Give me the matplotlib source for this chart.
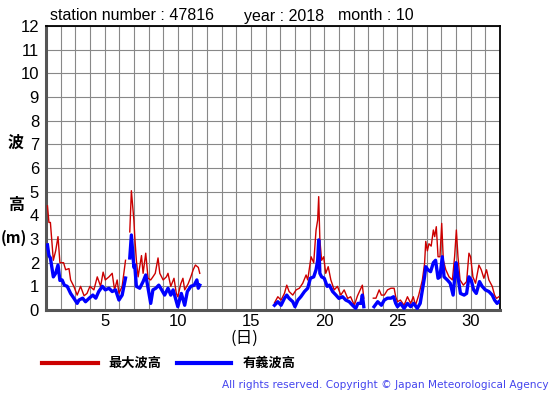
import numpy as np
import matplotlib
matplotlib.use("Agg")
import matplotlib.pyplot as plt

nan = np.nan

# 最大波高 (max wave height), day of month vs metres
max_days = [1.1, 1.2, 1.3, 1.5, 1.66, 1.82, 1.95, 2.2, 2.34, 2.57, 2.68, 2.9, 3.13, 3.36, 3.6, 3.8,
            4.0, 4.27, 4.5, 4.73, 4.9, 5.05, 5.3, 5.52, 5.68, 5.86, 5.98, 6.2, 6.43, 6.55,
            6.72, 6.83, 7.0, 7.06, 7.17, 7.29, 7.52, 7.63, 7.81, 7.97, 8.15, 8.3, 8.46, 8.65,
            8.77, 9.0, 9.22, 9.33, 9.52, 9.74, 9.9, 10.0, 10.2, 10.35, 10.47, 10.7, 10.89,
            11.05, 11.2, 11.4, 11.5, 11.6,
            16.6, 16.83, 17.05, 17.28, 17.44, 17.6, 17.85, 18.08, 18.3, 18.53, 18.76, 18.87,
            19.1, 19.28, 19.44, 19.55, 19.62, 19.7, 19.82, 19.96, 20.1, 20.27, 20.45, 20.68,
            20.9, 21.13, 21.36, 21.6, 21.8, 22.05, 22.27, 22.6, 22.7, 22.82, 22.95,
            23.07, 23.2, 23.35, 23.53, 23.75, 23.9, 24.1, 24.32, 24.55, 24.77, 24.88, 25.0,
            25.2, 25.45, 25.68, 25.9, 26.08, 26.23, 26.45, 26.7, 26.85, 26.93, 27.04, 27.15,
            27.3, 27.45, 27.54, 27.65, 27.77, 27.9, 28.02, 28.13, 28.3, 28.52, 28.75, 28.9,
            29.02, 29.13, 29.27, 29.5, 29.72, 29.88, 29.99, 30.15, 30.33, 30.56, 30.72, 30.9,
            31.08, 31.24, 31.47, 31.63, 31.76, 31.92]
max_wave = [4.4, 3.7, 3.7, 2.1, 2.5, 3.1, 2.0, 2.0, 1.7, 1.75, 1.27, 1.0, 0.63, 1.0, 0.6, 0.7,
            1.0, 0.85, 1.4, 1.0, 1.6, 1.27, 1.4, 1.55, 0.85, 1.27, 0.7, 1.0, 2.1, nan,
            3.3, 5.04, 3.8, 3.1, 2.1, 1.4, 2.3, 1.55, 2.4, 1.34, 1.27, 1.4, 1.55, 2.2,
            1.55, 1.27, 1.4, 1.55, 1.0, 1.34, 0.7, 0.56, 1.1, 1.34, 0.85, 1.1, 1.4,
            1.7, 1.9, 1.8, 1.55, nan,
            0.3, 0.56, 0.42, 0.7, 1.05, 0.78, 0.63, 0.85, 0.92, 1.13, 1.48, 1.27,
            2.25, 2.0, 3.38, 3.8, 4.79, 2.96, 2.1, 2.25, 1.55, 1.83, 1.27, 0.85,
            1.0, 0.63, 0.85, 0.49, 0.56, 0.2, 0.6, 1.05, 0.5, nan, nan,
            0.85, nan, 0.5, 0.5, 0.85, 0.63, 0.63, 0.85, 0.92, 0.92, 0.56, 0.35,
            0.42, 0.2, 0.56, 0.28, 0.56, 0.2, 0.63, 1.27, 1.97, 2.9, 2.5, 2.8,
            2.7, 3.38, 3.1, 3.52, 2.25, 2.25, 3.66, 2.1, 1.7, 1.4, 1.27, 2.25,
            3.38, 2.25, 1.27, 1.05, 1.2, 2.4, 2.25, 1.4, 1.13, 1.9, 1.7, 1.34,
            1.7, 1.27, 1.0, 0.63, 0.49, 0.56]

# 有義波高 (significant wave height)
sig_days = [1.1, 1.2, 1.3, 1.5, 1.66, 1.82, 1.95, 2.1, 2.25, 2.45, 2.68, 2.9, 3.13, 3.25, 3.5,
            3.7, 3.95, 4.2, 4.4, 4.6, 4.85, 5.05, 5.3, 5.52, 5.75, 5.98, 6.2, 6.43, 6.55,
            6.72, 6.83, 7.0, 7.06, 7.17, 7.4, 7.63, 7.81, 7.97, 8.15, 8.3, 8.5, 8.7, 8.9,
            9.1, 9.33, 9.52, 9.68, 9.9, 10.0, 10.24, 10.47, 10.65, 10.89, 11.12, 11.3, 11.4,
            11.5, 11.6,
            16.6, 16.83, 17.05, 17.28, 17.44, 17.6, 17.85, 18.0, 18.2, 18.4, 18.65, 18.87,
            19.05, 19.28, 19.44, 19.55, 19.62, 19.7, 19.82, 20.0, 20.2, 20.35, 20.57, 20.8,
            21.0, 21.25, 21.47, 21.7, 21.93, 22.15, 22.3, 22.5, 22.6, 22.7, 22.95, 23.07,
            23.2, 23.4, 23.65, 23.9, 24.1, 24.32, 24.55, 24.73, 24.88, 25.0, 25.2, 25.45,
            25.68, 25.9, 26.1, 26.35, 26.55, 26.7, 26.85, 26.93, 27.08, 27.26, 27.45, 27.6,
            27.77, 27.9, 28.06, 28.18, 28.4, 28.6, 28.8, 29.0, 29.13, 29.3, 29.55, 29.72,
            29.88, 30.03, 30.2, 30.38, 30.6, 30.78, 31.0, 31.24, 31.47, 31.63, 31.8, 31.92]
sig_wave = [2.75, 2.3, 2.2, 1.4, 1.55, 1.9, 1.25, 1.27, 1.05, 1.0, 0.7, 0.5, 0.28, 0.42, 0.5,
            0.35, 0.5, 0.63, 0.5, 0.78, 1.0, 0.85, 0.92, 0.78, 0.85, 0.42, 0.63, 1.35, nan,
            2.2, 3.17, 1.8, 1.9, 1.0, 0.92, 1.2, 1.48, 0.92, 0.28, 0.85, 0.92, 1.05, 0.85,
            0.63, 0.92, 0.63, 0.85, 0.35, 0.14, 0.7, 0.2, 0.78, 1.0, 1.05, 1.27, 0.92,
            1.05, nan,
            0.2, 0.35, 0.2, 0.49, 0.63, 0.49, 0.35, 0.14, 0.42, 0.56, 0.78, 0.92,
            1.34, 1.4, 1.7, 2.1, 2.96, 1.55, 1.4, 1.34, 1.0, 1.05, 0.78, 0.63,
            0.49, 0.56, 0.42, 0.35, 0.2, 0.07, 0.28, 0.28, 0.63, 0.14, nan, 0.2,
            nan, 0.14, 0.35, 0.2, 0.42, 0.5, 0.5, 0.56, 0.28, 0.14, 0.28, 0.07,
            0.28, 0.14, 0.28, 0.07, 0.28, 0.85, 1.4, 1.83, 1.7, 1.62, 2.0, 2.1,
            1.34, 1.4, 2.25, 1.4, 1.27, 1.13, 0.63, 2.0, 1.4, 0.7, 0.63, 0.7,
            1.4, 1.27, 0.85, 0.7, 1.2, 1.0, 0.85, 0.78, 0.63, 0.42, 0.28, 0.35]

x_ticks = [5, 10, 15, 20, 25, 30]
y_ticks = list(range(0, 13))

plt.rcParams['font.family'] = ['Liberation Sans', 'Noto Sans CJK JP', 'DejaVu Sans']
jp = ['Noto Sans CJK JP', 'DejaVu Sans']

fig = plt.figure(figsize=(5.55, 3.95), dpi=100)
ax = fig.add_axes([46 / 555, 85 / 395, 454 / 555, 284 / 395])

ax.plot(max_days, max_wave, color="#cc0000", lw=1.0, zorder=3)
ax.plot(sig_days, sig_wave, color="#0000ff", lw=2.4, zorder=4)

ax.set_xlim(1, 32)
ax.set_ylim(0, 12)
ax.set_xticks(range(1, 33), minor=True)
ax.set_xticks(x_ticks)
ax.set_yticks(y_ticks)
ax.grid(True, which='both', axis='x', color='#888888', lw=0.8)
ax.grid(True, axis='y', color='#888888', lw=0.8)
ax.tick_params(which='both', length=0, labelsize=12, pad=3)
ax.tick_params(axis='y', pad=5)

for side in ['left', 'bottom']:
    ax.spines[side].set_color('#555555')
    ax.spines[side].set_linewidth(2.2)
for side in ['top', 'right']:
    ax.spines[side].set_color('black')
    ax.spines[side].set_linewidth(1.3)

fig.text(50 / 555, 1 - 16 / 395, "station number : 47816", fontsize=11.5, va='center')
fig.text(244 / 555, 1 - 16 / 395, "year : 2018", fontsize=11.5, va='center')
fig.text(338 / 555, 1 - 16 / 395, "month : 10", fontsize=11.5, va='center')

fig.text(16 / 555, 1 - 143 / 395, "波", family=jp, fontsize=11.5, fontweight='bold',
         ha='center', va='center')
fig.text(16 / 555, 1 - 205 / 395, "高", family=jp, fontsize=11.5, fontweight='bold',
         ha='center', va='center')
fig.text(14 / 555, 1 - 238 / 395, "(m)", family=jp, fontsize=11, fontweight='bold',
         ha='center', va='center')
fig.text(244 / 555, 1 - 338 / 395, "(日)", family=jp, fontsize=12,
         ha='center', va='center')

# legend drawn by hand
fig.add_artist(plt.Line2D([42 / 555, 98 / 555], [1 - 363 / 395] * 2, color="#cc0000", lw=3))
fig.text(108 / 555, 1 - 363 / 395, "最大波高", family=jp, fontsize=9.5, fontweight='bold',
         va='center')
fig.add_artist(plt.Line2D([177 / 555, 231 / 555], [1 - 363 / 395] * 2, color="#0000ff", lw=3))
fig.text(243 / 555, 1 - 363 / 395, "有義波高", family=jp, fontsize=9.5, fontweight='bold',
         va='center')

fig.text(549 / 555, 1 - 385 / 395, "All rights reserved. Copyright © Japan Meteorological Agency",
         family='DejaVu Sans', fontsize=7.6, color="#4444ee", ha='right', va='center')

fig.savefig("out.png", dpi=100)
